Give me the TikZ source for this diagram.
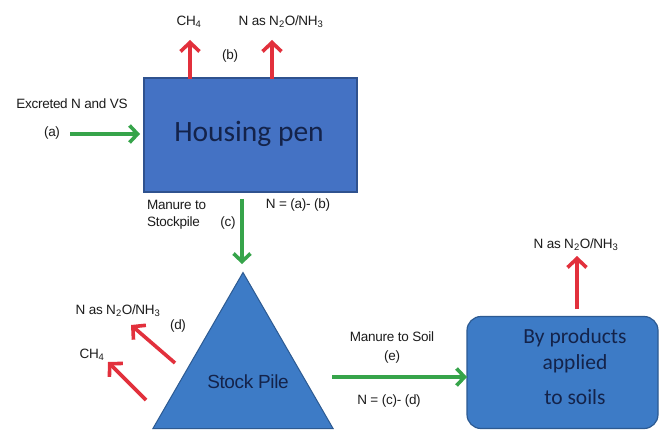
\documentclass[tikz,border=0pt]{standalone}
\usepackage{fontspec}
\setmainfont{Liberation Sans}
\newfontfamily\boxfont{Carlito}
\newfontfamily\lblfont[LetterSpace=-2]{Liberation Sans}
\usetikzlibrary{arrows.meta,shapes.geometric}
\definecolor{penblue}{HTML}{4472C4}
\definecolor{penedge}{HTML}{2F528F}
\definecolor{pileblue}{HTML}{3D7BC6}
\definecolor{pileedge}{HTML}{2C5A92}
\definecolor{flowgreen}{HTML}{36A44A}
\definecolor{lossred}{HTML}{E2303C}
\definecolor{boxtext}{HTML}{14234A}
\definecolor{lbltext}{HTML}{1C1C1C}
\tikzset{
  x=1pt, y=-1pt,
  penbox/.style={rectangle, fill=penblue, draw=penedge, line width=1.2pt,
    minimum width=213pt, minimum height=114pt, inner sep=0pt},
  pilebox/.style={regular polygon, regular polygon sides=3, fill=pileblue,
    draw=pileedge, line width=1pt, minimum size=208pt, inner sep=0pt},
  soilbox/.style={rectangle, rounded corners=14pt, fill=pileblue, draw=pileedge,
    line width=1.2pt, minimum width=191pt, minimum height=112pt, inner sep=0pt},
  bigtext/.style={font=\boxfont\fontsize{29.5}{34}\selectfont, text=boxtext},
  soiltext/.style={font=\boxfont\fontsize{21.5}{25}\selectfont, text=boxtext},
  piletext/.style={font=\lblfont\fontsize{19}{22}\selectfont, text=boxtext},
  lbl/.style={font=\lblfont\fontsize{13.5}{16}\selectfont, text=lbltext, inner sep=0pt},
  garrow/.style={draw=flowgreen, line width=3.6pt,
    -{Straight Barb[length=8pt, width=17pt, line width=3.6pt]}},
  rarrow/.style={draw=lossred, line width=3.6pt,
    -{Straight Barb[length=9pt, width=19pt, line width=3.6pt]}},
}
\begin{document}
\begin{tikzpicture}
\useasboundingbox (0,0) rectangle (660,430);
\fill[white] (0,0) rectangle (660,430);

% main units
\node[penbox] (hp) at (250.5,135) {};
\node[bigtext] (hptext) at (249,134) {Housing pen};
\node[pilebox] (pile) at (243,376.5) {};
\node[piletext] (piletext) at (248,382) {Stock Pile};
\node[soilbox] (soil) at (562.5,372.5) {};
\node[soiltext] (soil1) at (575,338) {By products};
\node[soiltext] (soil2) at (575,364) {applied};
\node[soiltext] (soil3) at (575,397) {to soils};

% arrow end points
\coordinate (inS) at (70,134);
\coordinate (inE) at (140,134);
\coordinate (ch4S) at (190,79);
\coordinate (ch4E) at (190,40);
\coordinate (n2oS) at (272,79);
\coordinate (n2oE) at (272,40);
\coordinate (downS) at (242,199);
\coordinate (downE) at (242,264);
\coordinate (d1S) at (175,363);
\coordinate (d1E) at (131,325);
\coordinate (d2S) at (146,400);
\coordinate (d2E) at (108,362);
\coordinate (rightS) at (332,377);
\coordinate (rightE) at (467,377);
\coordinate (upS) at (577,309);
\coordinate (upE) at (577,256);

% flows of manure
\draw[garrow] (inS) -- (inE);
\draw[garrow] (downS) -- (downE);
\draw[garrow] (rightS) -- (rightE);

% gaseous losses
\draw[rarrow] (ch4S) -- (ch4E);
\draw[rarrow] (n2oS) -- (n2oE);
\draw[rarrow] (d1S) -- (d1E);
\draw[rarrow] (d2S) -- (d2E);
\draw[rarrow] (upS) -- (upE);

% labels
\node[lbl] (la1) at (72,104) {Excreted N and VS};
\node[lbl] (la2) at (52,133) {(a)};
\node[lbl] (lb0) at (189,22) {CH\textsubscript{4}};
\node[lbl] (lb1) at (281,22) {N as N\textsubscript{2}O/NH\textsubscript{3}};
\node[lbl] (lb2) at (230,56) {(b)};
\node[lbl, anchor=west] (lc1) at (147,205) {Manure to};
\node[lbl, anchor=west] (lc2) at (147,223) {Stockpile};
\node[lbl] (lc3) at (228,223) {(c)};
\node[lbl] (lc4) at (298,205) {N = (a)- (b)};
\node[lbl] (ld1) at (118,311) {N as N\textsubscript{2}O/NH\textsubscript{3}};
\node[lbl] (ld2) at (178,326) {(d)};
\node[lbl] (ld3) at (92,355) {CH\textsubscript{4}};
\node[lbl] (le1) at (392,337) {Manure to Soil};
\node[lbl] (le2) at (392,357) {(e)};
\node[lbl] (le3) at (389,401) {N = (c)- (d)};
\node[lbl] (lf1) at (576,245) {N as N\textsubscript{2}O/NH\textsubscript{3}};
\end{tikzpicture}
\end{document}
